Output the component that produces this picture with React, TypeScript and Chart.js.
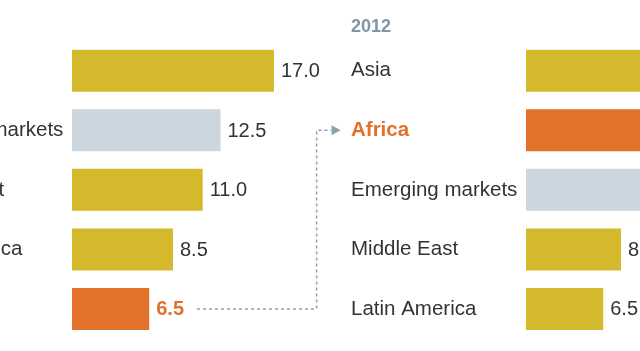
import React, { useEffect, useRef } from "react";
import { Chart, registerables } from "chart.js";

Chart.register(...registerables);

// ---- data ----
const categoriesEarly = ["Asia", "Emerging markets", "Middle East", "Latin America", "Africa"];
const valuesEarly = [17.0, 12.5, 11.0, 8.5, 6.5];
const titleEarly = "";

const categories2012 = ["Asia", "Africa", "Emerging markets", "Middle East", "Latin America"];
const values2012 = [12.0, 11.0, 10.0, 8.0, 6.5];
const title2012 = "2012";

const highlight = "Africa";
const aggregate = "Emerging markets";

const GOLD = "#d4b92c";
const ORANGE = "#e2712a";
const GREYBLUE = "#cbd6de";
const TEXT = "#333333";
const TITLE = "#7f96a4";
const CONNECT = "#8ba1ae";
const FONT = "'Liberation Sans', Arial, Helvetica, sans-serif";

const colorFor = (c: string) => (c === highlight ? ORANGE : c === aggregate ? GREYBLUE : GOLD);

type PanelProps = {
  categories: string[];
  values: number[];
  title: string;
  left: number;
  connector?: boolean;
};

function Panel({ categories, values, title, left, connector }: PanelProps) {
  const ref = useRef<HTMLCanvasElement | null>(null);
  useEffect(() => {
    if (!ref.current) return;
    const valueLabels = {
      id: "valueLabels",
      afterDatasetsDraw(chart: any) {
        const ctx = chart.ctx;
        const meta = chart.getDatasetMeta(0);
        ctx.save();
        ctx.textBaseline = "middle";
        ctx.textAlign = "left";
        meta.data.forEach((bar: any, i: number) => {
          const isHi = categories[i] === highlight;
          ctx.font = `${isHi ? "bold " : ""}20px ${FONT}`;
          ctx.fillStyle = isHi ? ORANGE : TEXT;
          ctx.fillText(values[i].toFixed(1), bar.x + 7, bar.y + 1);
        });
        ctx.restore();
      },
    };
    const titlePlugin = {
      id: "panelTitle",
      afterDraw(chart: any) {
        if (!title) return;
        const ctx = chart.ctx;
        ctx.save();
        ctx.font = `bold 18px ${FONT}`;
        ctx.fillStyle = TITLE;
        ctx.textBaseline = "alphabetic";
        ctx.textAlign = "left";
        ctx.fillText(title, 10, 32);
        ctx.restore();
      },
    };
    const connectorPlugin = {
      id: "connector",
      afterDraw(chart: any) {
        if (!connector) return;
        const ctx = chart.ctx;
        const meta = chart.getDatasetMeta(0);
        const idx = categories.indexOf(highlight);
        const idxTarget = categories2012.indexOf(highlight);
        const bar: any = meta.data[idx];
        ctx.save();
        ctx.font = `bold 20px ${FONT}`;
        const w = ctx.measureText(values[idx].toFixed(1)).width;
        const x0 = bar.x + 7 + w + 13;
        const y0 = bar.y;
        const y1 = chart.scales.y.getPixelForValue(idxTarget);
        const xv = chart.chartArea.right + 7;
        const xe = xv + 15;
        ctx.strokeStyle = CONNECT;
        ctx.lineWidth = 1.5;
        ctx.setLineDash([3, 3]);
        ctx.beginPath();
        ctx.moveTo(x0, y0);
        ctx.lineTo(xv, y0);
        ctx.lineTo(xv, y1);
        ctx.lineTo(xe, y1);
        ctx.stroke();
        ctx.setLineDash([]);
        ctx.fillStyle = CONNECT;
        ctx.beginPath();
        ctx.moveTo(xe, y1 - 5);
        ctx.lineTo(xe + 9, y1);
        ctx.lineTo(xe, y1 + 5);
        ctx.closePath();
        ctx.fill();
        ctx.restore();
      },
    };
    const chart = new Chart(ref.current, {
      type: "bar",
      data: {
        labels: categories,
        datasets: [
          {
            data: values,
            backgroundColor: categories.map(colorFor),
            borderWidth: 0,
            barPercentage: 0.705,
            categoryPercentage: 1,
          },
        ],
      },
      options: {
        indexAxis: "y",
        responsive: false,
        animation: false,
        layout: { padding: { left: 10, right: 32.4, top: 41, bottom: 10 } },
        plugins: {
          legend: { display: false },
          title: { display: false },
          tooltip: { enabled: false },
        },
        scales: {
          x: { display: false, min: 0, max: 20 },
          y: {
            grid: { display: false, drawTicks: false },
            border: { display: false },
            afterFit: (scale: any) => {
              scale.width = 175;
            },
            ticks: {
              crossAlign: "far",
              padding: 0,
              color: (c: any) => (categories[c.index] === highlight ? ORANGE : TEXT),
              font: (c: any) => ({
                family: FONT,
                size: 20.5,
                weight: categories[c.index] === highlight ? "bold" : "normal",
              }),
            },
          },
        },
      },
      plugins: [valueLabels, titlePlugin, connectorPlugin],
    } as any);
    return () => chart.destroy();
  }, []);
  return (
    <canvas
      ref={ref}
      width={455}
      height={351}
      style={{ position: "absolute", left, top: 0, width: 455, height: 351 }}
    />
  );
}

export default function App() {
  return (
    <div
      style={{
        position: "fixed",
        left: 0,
        top: 0,
        width: 640,
        height: 351,
        overflow: "hidden",
        background: "#ffffff",
      }}
    >
      <Panel categories={categoriesEarly} values={valuesEarly} title={titleEarly} left={-113} connector />
      <Panel categories={categories2012} values={values2012} title={title2012} left={341} />
    </div>
  );
}
